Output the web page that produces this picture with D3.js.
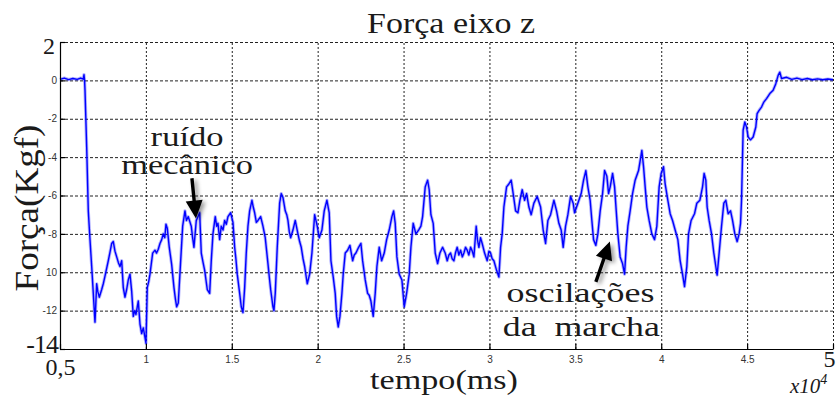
<!DOCTYPE html>
<html>
<head>
<meta charset="utf-8">
<script src="https://cdn.jsdelivr.net/npm/d3@7"></script>
<style>
  body { margin: 0; background: #fff; }
  .serif { font-family: 'Liberation Serif', 'DejaVu Serif', serif; fill: #1a1a1a; }
  .gridline line { stroke: #222; stroke-width: 1; }
  .gridline path { display: none; }
  .axis path, .axis line { stroke: #000; stroke-width: 1.2; }
  .small-tick { font-family: 'Liberation Sans Narrow', 'Liberation Sans', Arial, sans-serif; font-size: 10px; fill: #333; }
</style>
</head>
<body>
<svg id="chart" width="840" height="398"></svg>
<script>
// time in ms, force in Kgf
const tempo = [
  5000, 5250, 5500, 5750, 6000, 6200, 6350, 6397, 6430, 6455, 6554, 6647, 6746, 6845, 6938, 7037,
  7136, 7200, 7287, 7427, 7520, 7619, 7811, 7900, 8009, 8102, 8200, 8300, 8400, 8492, 8591, 8684,
  8783, 8880, 8975, 9074, 9173, 9266, 9350, 9423, 9557, 9656, 9755, 9848, 9947, 10005, 10081, 10160,
  10238, 10395, 10529, 10620, 10721, 10820, 10920, 11012, 11100, 11169, 11245, 11361, 11501, 11635, 11720, 11792,
  11885, 12025, 12141, 12275, 12360, 12467, 12642, 12720, 12799, 12933, 13131, 13224, 13330, 13422, 13573, 13713,
  13806, 13905, 14038, 14120, 14196, 14295, 14388, 14490, 14586, 14680, 14778, 14935, 15069, 15168, 15240, 15319,
  15459, 15552, 15651, 15750, 15843, 15942, 16041, 16174, 16250, 16332, 16430, 16524, 16681, 16815, 16948, 17030,
  17106, 17190, 17263, 17397, 17455, 17531, 17647, 17787, 17880, 17979, 18112, 18200, 18270, 18350, 18427, 18561,
  18694, 18852, 18950, 19044, 19150, 19242, 19393, 19533, 19666, 19824, 19899, 19975, 20091, 20248, 20382, 20539,
  20673, 20772, 20906, 21022, 21104, 21197, 21296, 21412, 21488, 21605, 21744, 21878, 22035, 22130, 22227, 22384,
  22518, 22617, 22769, 22908, 23000, 23100, 23234, 23350, 23449, 23583, 23723, 23874, 24014, 24165, 24322, 24421,
  24515, 24613, 24747, 24904, 25039, 25178, 25329, 25428, 25562, 25719, 25876, 26010, 26109, 26261, 26400, 26493,
  26592, 26726, 26843, 26982, 27116, 27273, 27349, 27424, 27541, 27640, 27739, 27830, 27931, 28020, 28123, 28220,
  28321, 28420, 28513, 28610, 28705, 28800, 28903, 29000, 29095, 29229, 29300, 29386, 29480, 29578, 29718, 29869,
  29970, 30067, 30160, 30259, 30416, 30550, 30649, 30742, 30841, 30998, 31132, 31266, 31382, 31522, 31656, 31772,
  31906, 32046, 32162, 32296, 32430, 32587, 32779, 32977, 33128, 33268, 33402, 33559, 33751, 33908, 34042, 34176,
  34292, 34432, 34566, 34723, 34874, 34955, 35148, 35340, 35479, 35613, 35730, 35863, 35962, 36061, 36195, 36312,
  36447, 36586, 36703, 36836, 36935, 37029, 37168, 37285, 37381, 37476, 37609, 37749, 37865, 37958, 38058, 38191,
  38331, 38482, 38680, 38773, 38872, 38971, 39065, 39163, 39297, 39454, 39612, 39745, 39879, 39996, 40135, 40228,
  40386, 40520, 40659, 40811, 40968, 41101, 41241, 41357, 41491, 41590, 41741, 41939, 42073, 42248, 42405, 42498,
  42597, 42673, 42789, 42929, 43063, 43179, 43255, 43371, 43511, 43645, 43761, 43895, 44035, 44152, 44285, 44419,
  44535, 44617, 44675, 44733, 44768, 44867, 44966, 45059, 45199, 45351, 45507, 45583, 45699, 45839, 45973, 46130,
  46322, 46514, 46671, 46807, 46904, 47003, 47300, 47600, 47900, 48200, 48500, 48800, 49100, 49400, 49700, 50000
];
const forca = [
  0.05, 0.12, 0.04, 0.1, 0.05, 0.12, 0.06, 0.3, 0.0, -0.5, -3.5, -6.8, -8.3, -9.7, -11.1, -12.6,
  -10.6, -11.0, -11.3, -10.9, -10.6, -10.2, -9.4, -9.0, -8.5, -8.4, -8.9, -9.2, -9.5, -9.7, -9.4, -10.8,
  -11.3, -10.9, -10.4, -10.1, -11.0, -12.3, -12.0, -12.2, -11.5, -12.7, -13.2, -12.9, -13.4, -13.7, -10.8, -10.5,
  -10.1, -9.0, -8.85, -9.0, -8.8, -8.5, -8.3, -8.0, -8.2, -7.5, -7.7, -8.7, -9.6, -10.8, -11.4, -11.8,
  -11.6, -9.4, -7.6, -6.8, -7.3, -7.1, -7.6, -8.2, -8.7, -7.3, -6.9, -9.0, -9.5, -9.9, -10.9, -11.1,
  -9.4, -8.0, -7.1, -7.6, -7.45, -8.3, -7.6, -7.8, -7.3, -7.5, -7.1, -6.9, -7.4, -8.7, -9.3, -10.1,
  -11.1, -11.8, -12.1, -10.8, -9.0, -7.6, -6.8, -6.25, -6.6, -6.9, -7.4, -7.3, -7.1, -7.6, -8.2, -8.9,
  -9.55, -10.3, -10.9, -11.8, -12.0, -11.1, -8.7, -6.4, -5.9, -6.1, -6.8, -7.0, -7.3, -7.9, -8.2, -7.8,
  -7.3, -8.0, -8.4, -8.7, -9.3, -9.7, -10.6, -10.1, -9.0, -7.0, -7.3, -7.6, -8.2, -7.8, -6.8, -6.25,
  -6.9, -9.4, -10.25, -11.1, -12.3, -12.85, -12.3, -11.1, -10.1, -9.0, -8.85, -8.6, -9.4, -9.1, -9.0, -8.7,
  -8.5, -9.4, -10.4, -11.1, -11.2, -11.5, -12.3, -11.1, -9.7, -8.7, -9.4, -9.0, -8.3, -7.8, -7.1, -6.8,
  -7.45, -9.2, -10.1, -10.4, -11.8, -11.1, -10.1, -8.7, -7.45, -8.0, -7.8, -7.6, -7.1, -5.55, -5.2, -5.7,
  -7.0, -7.45, -9.0, -9.55, -9.0, -8.7, -8.85, -9.0, -9.4, -9.1, -9.0, -9.3, -9.4, -9.0, -8.7, -9.1,
  -8.85, -9.2, -9.0, -8.7, -8.85, -9.1, -8.7, -8.9, -9.2, -7.6, -8.3, -8.7, -8.2, -8.5, -9.0, -9.4,
  -8.9, -9.0, -9.3, -9.4, -9.9, -10.25, -8.7, -8.0, -6.6, -5.55, -5.4, -5.2, -5.9, -6.8, -6.9, -6.25,
  -5.7, -6.25, -5.9, -6.6, -7.0, -6.4, -6.05, -6.6, -7.8, -8.5, -7.3, -7.0, -6.25, -6.8, -7.45, -7.8,
  -8.7, -7.6, -7.0, -6.05, -6.4, -6.9, -6.4, -5.9, -5.2, -4.7, -5.55, -6.25, -7.3, -8.3, -8.6, -8.0,
  -6.8, -5.9, -4.7, -5.0, -5.9, -5.55, -4.85, -5.55, -6.8, -8.0, -9.2, -9.55, -10.1, -8.7, -7.6, -6.8,
  -5.9, -5.2, -4.7, -4.2, -3.65, -4.5, -5.55, -6.6, -7.3, -8.0, -8.3, -7.6, -5.55, -4.85, -4.5, -5.4,
  -6.25, -6.95, -7.3, -7.8, -8.3, -9.4, -10.1, -10.75, -9.7, -8.0, -7.3, -6.95, -6.4, -6.25, -5.55, -4.85,
  -5.2, -6.6, -7.3, -8.0, -9.0, -9.7, -10.15, -9.0, -7.6, -6.4, -6.25, -6.95, -6.8, -7.3, -8.0, -8.4,
  -8.0, -7.45, -6.25, -4.0, -2.6, -2.17, -2.43, -2.95, -3.1, -2.95, -2.43, -1.73, -1.56, -1.39, -1.13, -0.95,
  -0.69, -0.52, -0.17, 0.26, 0.43, 0.1, 0.16, 0.05, 0.12, 0.04, 0.1, 0.03, 0.08, 0.03, 0.07, 0.03
];

const xTicks = [5000, 10000, 15000, 20000, 25000, 30000, 35000, 40000, 45000, 50000];
const xTickLabels = ['0,5', '1', '1.5', '2', '2.5', '3', '3.5', '4', '4.5', '5'];
const yTicks = [2, 0, -2, -4, -6, -8, -10, -12, -14];
const yTickLabels = ['2', '0', '-2', '-4', '-6', '-8', '10', '-12', '-14'];
const bigXLabels = ['0,5', '5'];
const bigYLabels = ['2', '-14'];

const width = 840;
const height = 398;
const margin = { top: 42, right: 7, bottom: 49, left: 60 };
const chartWidth = width - margin.left - margin.right;
const chartHeight = height - margin.top - margin.bottom;

// stretch a text sideways so its glyphs fill the width of the wide TeX font in the picture
function fitText(node, x, y, w, rot) {
  const len = node.getComputedTextLength();
  const sx = w / len;
  d3.select(node).attr('x', 0).attr('y', 0)
    .attr('transform', `translate(${x},${y})${rot ? ` rotate(${rot})` : ''} scale(${sx},1)`);
}

const svg = d3.select('#chart');
svg.append('rect').attr('width', width).attr('height', height).attr('fill', '#fff');

const defs = svg.append('defs');
defs.append('filter').attr('id', 'shadow').attr('x', '-60%').attr('y', '-60%').attr('width', '220%').attr('height', '220%')
  .append('feDropShadow').attr('dx', 3).attr('dy', 2).attr('stdDeviation', 2)
  .attr('flood-color', '#000').attr('flood-opacity', 0.4);

const chart = svg.append('g').attr('transform', `translate(${margin.left},${margin.top})`);

const xScale = d3.scaleLinear().domain([5000, 50000]).range([0, chartWidth]);
const yScale = d3.scaleLinear().domain([-14, 2]).range([chartHeight, 0]);

// gridlines (top and right border are grid lines too)
const xGrid = d3.axisBottom(xScale).tickValues(xTicks.slice(1)).tickSize(-chartHeight).tickFormat('');
chart.append('g').classed('gridline', true).attr('transform', `translate(0,${chartHeight})`).call(xGrid)
  .selectAll('line').attr('stroke-dasharray', '2,2');

const yGrid = d3.axisLeft(yScale).tickValues(yTicks.slice(0, -1)).tickSize(-chartWidth).tickFormat('');
chart.append('g').classed('gridline', true).call(yGrid)
  .selectAll('line').attr('stroke-dasharray', '3,2');

// the signal: a soft band for the sensor noise, then the trace itself
const points = tempo.map((t, i) => ({ t: t, f: forca[i] }));
const line = d3.line().x((d) => xScale(d.t)).y((d) => yScale(d.f));
chart.append('path').datum(points)
  .attr('fill', 'none')
  .attr('stroke', '#0000ff')
  .attr('stroke-opacity', 0.3)
  .attr('stroke-width', 3.2)
  .attr('stroke-linejoin', 'round')
  .attr('d', line);
chart.append('path').datum(points)
  .attr('fill', 'none')
  .attr('stroke', '#0000ff')
  .attr('stroke-width', 1.4)
  .attr('stroke-linejoin', 'round')
  .attr('d', line);

// axes
const xAxis = d3.axisBottom(xScale).tickValues(xTicks).tickSize(-5).tickSizeOuter(0).tickPadding(7)
  .tickFormat((d, i) => xTickLabels[i]);
const gx = chart.append('g').classed('axis', true).attr('transform', `translate(0,${chartHeight})`).call(xAxis);
gx.selectAll('text').attr('fill', null)
  .each(function (d, i) {
    const t = d3.select(this);
    const lab = xTickLabels[i];
    if (bigXLabels.includes(lab)) {
      t.attr('class', 'serif').attr('font-size', 24).attr('dy', 0)
        .attr('y', lab === '5' ? 18 : 26)
        .attr('x', lab === '5' ? -4 : 0);
    } else {
      t.attr('class', 'small-tick').attr('font-size', null).attr('font-family', null);
    }
  });

const yAxis = d3.axisLeft(yScale).tickValues(yTicks).tickSize(-5).tickSizeOuter(0).tickPadding(3)
  .tickFormat((d, i) => yTickLabels[i]);
const gy = chart.append('g').classed('axis', true).call(yAxis);
gy.selectAll('text').attr('fill', null)
  .each(function (d, i) {
    const t = d3.select(this);
    const lab = yTickLabels[i];
    if (bigYLabels.includes(lab)) {
      t.attr('class', 'serif').attr('font-size', lab === '2' ? 24 : 26)
        .attr('dy', 0).attr('y', lab === '2' ? 11 : 3)
        .attr('x', lab === '2' ? -5 : -2)
        .attr('letter-spacing', lab === '2' ? null : -1);
    } else {
      t.attr('class', 'small-tick').attr('font-size', null).attr('font-family', null);
    }
  });
gx.select('.domain').attr('stroke', '#000');
gy.select('.domain').attr('stroke', '#000');

// titles
svg.append('text').classed('serif', true)
  .attr('text-anchor', 'middle').attr('font-size', 29)
  .text('Força eixo z')
  .each(function () { fitText(this, 451, 33, 168); });

svg.append('text').classed('serif', true)
  .attr('text-anchor', 'middle').attr('font-size', 28)
  .text('tempo(ms)')
  .each(function () { fitText(this, 444, 389, 148); });

svg.append('text').classed('serif', true)
  .attr('text-anchor', 'middle').attr('font-size', 34)
  .text('Força(Kgf)')
  .each(function () { fitText(this, 38, 208, 167, -90); });

const expo = svg.append('text').classed('serif', true)
  .attr('x', 790).attr('y', 393).attr('font-size', 21).attr('font-style', 'italic');
expo.append('tspan').text('x10');
expo.append('tspan').attr('dy', -9).attr('font-size', 14).text('4');

// annotations, placed in data coordinates
const notes = [
  { text: 'ruído', t: 12400, f: -3.4, w: 73 },
  { text: 'mecânico', t: 12400, f: -4.9, w: 132 },
  { text: 'oscilações', t: 35300, f: -11.55, w: 148 },
  { text: 'da\u00a0 marcha', t: 35350, f: -13.3, w: 157 }
];
chart.selectAll('.note').data(notes).enter().append('text')
  .attr('class', 'note serif')
  .attr('text-anchor', 'middle').attr('font-size', 28)
  .text((d) => d.text)
  .each(function (d) { fitText(this, xScale(d.t), yScale(d.f), d.w); });

const arrows = [
  { t0: 12680, f0: -5.1, t1: 12915, f1: -7.2 },
  { t0: 36195, f0: -10.5, t1: 37010, f1: -8.4 }
];
const arrowG = chart.selectAll('.arrow').data(arrows).enter().append('g')
  .classed('arrow', true).attr('filter', 'url(#shadow)');
arrowG.append('path').attr('fill', '#000')
  .attr('d', (d) => {
    const x0 = xScale(d.t0), y0 = yScale(d.f0), x1 = xScale(d.t1), y1 = yScale(d.f1);
    const len = Math.hypot(x1 - x0, y1 - y0);
    const ux = (x1 - x0) / len, uy = (y1 - y0) / len;
    const nx = -uy, ny = ux;
    const hl = 18, hw = 8.5, sw = 1.7;
    const bx = x1 - ux * hl, by = y1 - uy * hl;
    return `M${x0 + nx * sw},${y0 + ny * sw} L${bx + nx * sw},${by + ny * sw} L${bx + nx * hw},${by + ny * hw} ` +
      `L${x1},${y1} L${bx - nx * hw},${by - ny * hw} L${bx - nx * sw},${by - ny * sw} L${x0 - nx * sw},${y0 - ny * sw} Z`;
  });
</script>
</body>
</html>
